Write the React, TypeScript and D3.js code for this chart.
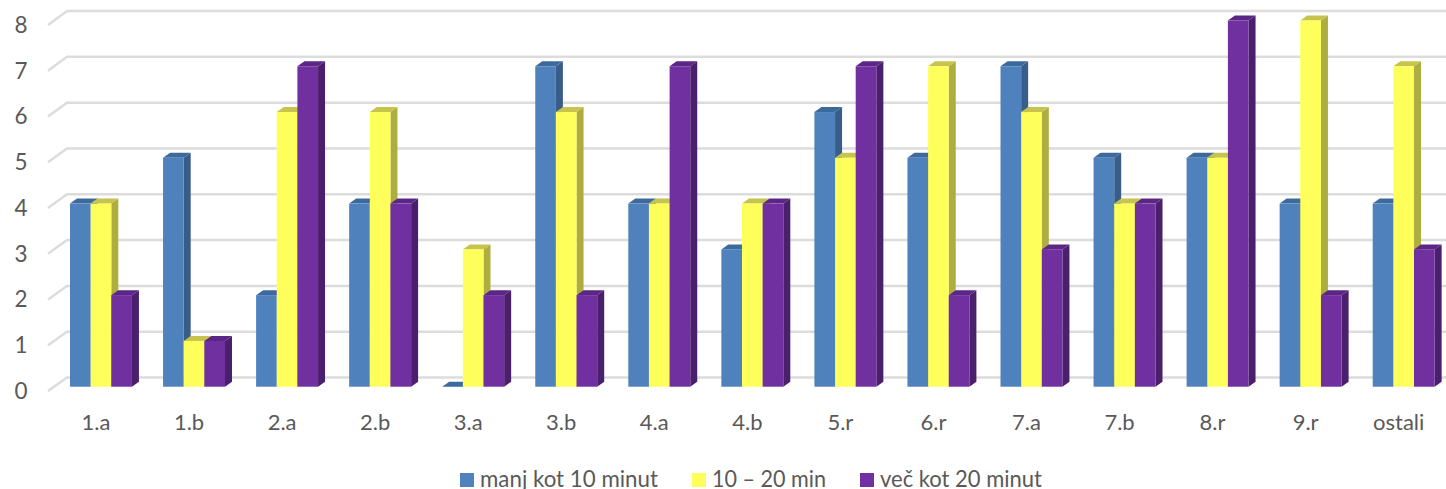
import React from "react";
import * as d3 from "d3";

const categories = ["1.a","1.b","2.a","2.b","3.a","3.b","4.a","4.b","5.r","6.r","7.a","7.b","8.r","9.r","ostali"];
const seriesNames = ["manj kot 10 minut","10 – 20 min","več kot 20 minut"];
const lessThan10 = [4,5,2,4,0,7,4,3,6,5,7,5,5,4,4];
const from10to20 = [4,1,6,6,3,6,4,4,5,7,6,4,5,8,7];
const moreThan20 = [2,1,7,4,2,2,7,4,7,2,3,4,8,2,3];
const yTicks = [0,1,2,3,4,5,6,7,8];
const allSeries = [lessThan10, from10to20, moreThan20];
const faces = [
  { front: "#4f81bd", side: "#385d8a", top: "#3c6a9c" },
  { front: "#ffff5b", side: "#aead40", top: "#c6c44c" },
  { front: "#7030a0", side: "#4a1f6c", top: "#5b2686" },
];
const legendSwatchX = [460, 692, 860];
const legendTextX = [480, 712, 880];
const legendTextW = [178, 114, 162];

const W = 1446, H = 489;
const font = "Lato, sans-serif";
const textColor = "#595959";

const yBar = d3.scaleLinear().domain([0, 8]).range([386.7, 20.5]);
const yBack = d3.scaleLinear().domain([0, 8]).range([377.5, 11]);
const yWall = d3.scaleLinear().domain([0, 8]).range([391, 25]);
const xGroup = d3.scaleLinear().domain([0, 14]).range([70, 1372.7]);
const barW = 20.65, depthX = 7, depthY = 5;

export default function App() {
  return (
    <svg width={W} height={H} viewBox={`0 0 ${W} ${H}`}
      style={{ position: "absolute", left: 0, top: 0, background: "#fff" }}>
      {yTicks.map((t) => (
        <g key={t}>
          <polyline
            points={`48,${yWall(t)} 67,${yBack(t)} ${W},${yBack(t)}`}
            fill="none" stroke="#dcdcdc" strokeWidth={2.5} />
          <text x={21} y={yWall(t)} dy="0.35em" textAnchor="middle"
            fontFamily={font} fontSize={22.5} fill={textColor}>{t}</text>
        </g>
      ))}
      {categories.map((c, i) => (
        <g key={c}>
          {allSeries.map((vals, s) => {
            const x0 = xGroup(i) + s * barW;
            const x1 = x0 + barW;
            const yT = yBar(vals[i]);
            const yB = yBar(0);
            const f = faces[s];
            return (
              <g key={s}>
                <path d={`M${x1},${yB}L${x1 + depthX},${yB - depthY}L${x1 + depthX},${yT - depthY}L${x1},${yT}Z`} fill={f.side} />
                <path d={`M${x0},${yT}L${x0 + depthX},${yT - depthY}L${x1 + depthX},${yT - depthY}L${x1},${yT}Z`} fill={f.top} />
                {vals[i] > 0 && <rect x={x0} y={yT} width={barW} height={yB - yT} fill={f.front} />}
              </g>
            );
          })}
          <text x={96 + i * ((xGroup(14) - xGroup(0)) / 14)} y={422} dy="0.35em" textAnchor="middle"
            fontFamily={font} fontSize={22} fill={textColor}>{c}</text>
        </g>
      ))}
      {seriesNames.map((n, s) => (
        <g key={n}>
          <rect x={legendSwatchX[s]} y={473} width={14} height={14} fill={faces[s].front} />
          <text x={legendTextX[s]} y={486.5} fontFamily={font} fontSize={23}
            textLength={legendTextW[s]} lengthAdjust="spacingAndGlyphs" fill={textColor}>{n}</text>
        </g>
      ))}
    </svg>
  );
}
